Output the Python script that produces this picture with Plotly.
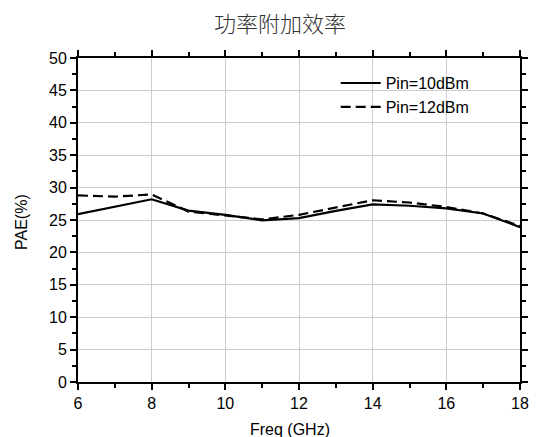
import plotly.graph_objects as go

freq = [6, 7, 8, 9, 10, 11, 12, 13, 14, 15, 16, 17, 18]
pae_10dbm = [25.9, 27.0, 28.2, 26.45, 25.8, 24.95, 25.3, 26.4, 27.4, 27.2, 26.8, 26.0, 23.9]
pae_12dbm = [28.8, 28.6, 28.95, 26.3, 25.7, 25.1, 25.8, 26.9, 28.05, 27.7, 27.0, 26.0, 24.1]

title_text = "功率附加效率"
x_title = "Freq (GHz)"
y_title = "PAE(%)"
x_ticks = [6, 8, 10, 12, 14, 16, 18]
y_ticks = [0, 5, 10, 15, 20, 25, 30, 35, 40, 45, 50]

fig = go.Figure()
fig.add_trace(go.Scatter(x=freq, y=pae_10dbm, mode="lines", name="Pin=10dBm",
                         line=dict(color="black", width=2.2)))
fig.add_trace(go.Scatter(x=freq, y=pae_12dbm, mode="lines", name="Pin=12dBm",
                         line=dict(color="black", width=2.2, dash="10px,5px")))

axis_common = dict(
    showline=True, linecolor="black", linewidth=2, mirror="allticks",
    ticks="outside", ticklen=6, tickwidth=2, tickcolor="black",
    showgrid=True, gridcolor="#cccccc", gridwidth=1, zeroline=False,
    automargin=False,
    tickfont=dict(family="Liberation Sans, Arial", size=16, color="black"),
)

fig.update_xaxes(range=[6, 18], tickvals=x_ticks,
                 minor=dict(ticks="outside", ticklen=4, tickwidth=2, tickcolor="black", dtick=1, showgrid=False),
                 **axis_common)
fig.update_yaxes(range=[0, 50], tickvals=y_ticks,
                 minor=dict(ticks="outside", ticklen=4, tickwidth=2, tickcolor="black", dtick=2.5, showgrid=False),
                 **axis_common)

fig.update_layout(
    width=539, height=437,
    margin=dict(l=78, r=19, t=58, b=55),
    paper_bgcolor="white", plot_bgcolor="white",
    title=dict(text=title_text, x=280 / 539, xanchor="center", y=1 - 24 / 437, yanchor="middle",
               font=dict(family="Noto Sans CJK SC", size=22, color="#333333", weight=300)),
    showlegend=True,
    legend=dict(x=0.583, y=0.975, xanchor="left", yanchor="top",
                bgcolor="rgba(0,0,0,0)", borderwidth=0,
                font=dict(family="Liberation Sans, Arial", size=16, color="black"),
                itemwidth=40, tracegroupgap=0),
    annotations=[
        dict(text=x_title, xref="paper", yref="paper", x=(290 - 78) / 442, y=-(429 - 382) / 324,
             xanchor="center", yanchor="middle", showarrow=False,
             font=dict(family="Liberation Sans, Arial", size=16, color="black")),
        dict(text=y_title, xref="paper", yref="paper", x=-(78 - 21) / 442, y=(382 - 222) / 324,
             xanchor="center", yanchor="middle", showarrow=False, textangle=-90,
             font=dict(family="Liberation Sans, Arial", size=16, color="black")),
    ],
)

fig.write_html("out.html")
